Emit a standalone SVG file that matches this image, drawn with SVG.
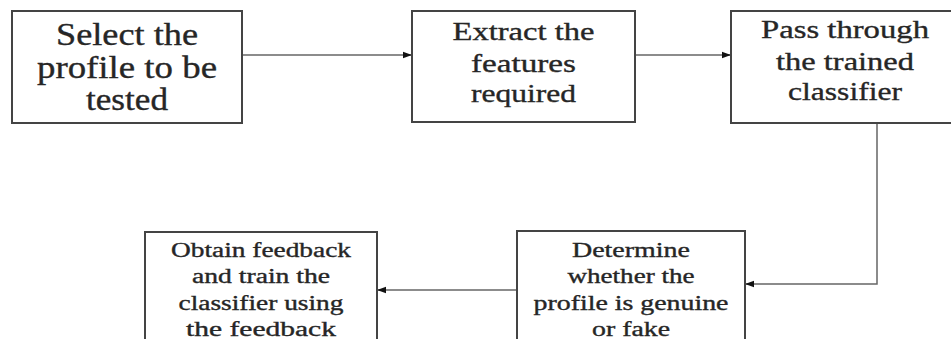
<svg xmlns="http://www.w3.org/2000/svg" width="951" height="339" viewBox="0 0 951 339">
<defs>
<marker id="ah" markerWidth="10" markerHeight="8" refX="9" refY="4" orient="auto" markerUnits="userSpaceOnUse">
<path d="M0,0.8 L9,4 L0,7.2 Z" fill="#111"/>
</marker>
<style>
.box{fill:#fff;stroke:#444;stroke-width:2}
.t{font-family:"Liberation Serif","Times New Roman",serif;fill:#262626;stroke:#262626;stroke-width:0.35;text-anchor:middle}
.l{font-size:31px}
.m{font-size:26px}
.s{font-size:20px}
.c{fill:none;stroke:#666;stroke-width:1.5}
</style>
</defs>
<rect width="951" height="339" fill="#fff"/>
<g id="connectors">
<line class="c" x1="242" y1="55" x2="412" y2="55" marker-end="url(#ah)"/>
<line class="c" x1="635" y1="55" x2="731" y2="55" marker-end="url(#ah)"/>
<polyline class="c" points="877,123 877,284 745,284" marker-end="url(#ah)"/>
<line class="c" x1="517" y1="290" x2="377" y2="290" marker-end="url(#ah)"/>
</g>
<g id="n1">
<rect class="box" x="12" y="11" width="230" height="112"/>
<text class="t l" x="127" y="45" textLength="142" lengthAdjust="spacingAndGlyphs">Select the</text>
<text class="t l" x="127" y="78" textLength="180" lengthAdjust="spacingAndGlyphs">profile to be</text>
<text class="t l" x="127" y="110" textLength="82" lengthAdjust="spacingAndGlyphs">tested</text>
</g>
<g id="n2">
<rect class="box" x="412" y="11" width="223" height="111"/>
<text class="t m" x="523.5" y="40" textLength="142" lengthAdjust="spacingAndGlyphs">Extract the</text>
<text class="t m" x="523.5" y="72" textLength="105" lengthAdjust="spacingAndGlyphs">features</text>
<text class="t m" x="523.5" y="102" textLength="105" lengthAdjust="spacingAndGlyphs">required</text>
</g>
<g id="n3">
<rect class="box" x="731" y="11" width="222" height="112"/>
<text class="t m" x="845" y="38" textLength="168" lengthAdjust="spacingAndGlyphs">Pass through</text>
<text class="t m" x="845" y="70" textLength="138" lengthAdjust="spacingAndGlyphs">the trained</text>
<text class="t m" x="845" y="100" textLength="114" lengthAdjust="spacingAndGlyphs">classifier</text>
</g>
<g id="n4">
<rect class="box" x="517" y="231" width="228" height="120"/>
<text class="t s" x="631" y="257" textLength="118" lengthAdjust="spacingAndGlyphs">Determine</text>
<text class="t s" x="631" y="283" textLength="127" lengthAdjust="spacingAndGlyphs">whether the</text>
<text class="t s" x="631" y="310" textLength="195" lengthAdjust="spacingAndGlyphs">profile is genuine</text>
<text class="t s" x="631" y="336" textLength="78" lengthAdjust="spacingAndGlyphs">or fake</text>
</g>
<g id="n5">
<rect class="box" x="145" y="232" width="232" height="120"/>
<text class="t s" x="261" y="257" textLength="180" lengthAdjust="spacingAndGlyphs">Obtain feedback</text>
<text class="t s" x="261" y="283" textLength="138" lengthAdjust="spacingAndGlyphs">and train the</text>
<text class="t s" x="261" y="310" textLength="165" lengthAdjust="spacingAndGlyphs">classifier using</text>
<text class="t s" x="261" y="336" textLength="150" lengthAdjust="spacingAndGlyphs">the feedback</text>
</g>
</svg>
